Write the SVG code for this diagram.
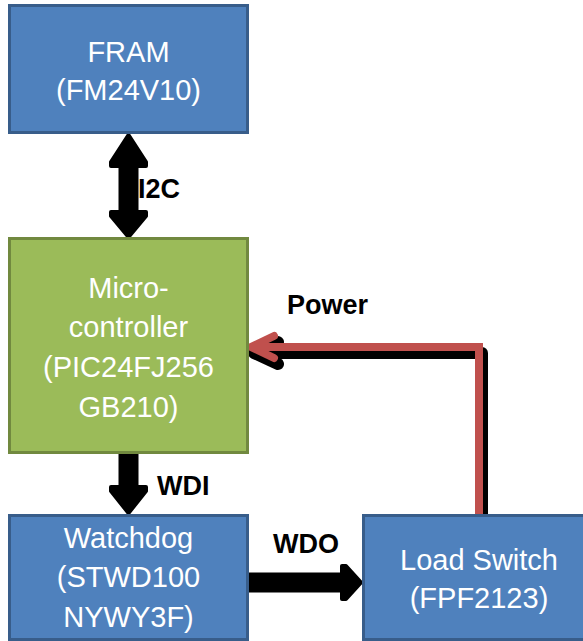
<svg xmlns="http://www.w3.org/2000/svg" width="583" height="641" viewBox="0 0 583 641">
<style>
.blue{fill:#4f81bd;stroke:#385d8a;stroke-width:3}
.green{fill:#9bbb59;stroke:#71893f;stroke-width:3}
.bt{font-family:"Liberation Sans",Arial,sans-serif;font-size:29px;fill:#ffffff;text-anchor:middle}
.lbl{font-family:"Liberation Sans",Arial,sans-serif;font-size:27px;font-weight:bold;fill:#000000}
.arr{fill:#000;stroke:#000;stroke-width:4;stroke-linejoin:round}
</style>
<rect width="583" height="641" fill="#ffffff"/>
<g id="connectors">
  <g id="i2c">
    <path class="arr" d="M128.5,135 L146,162 L146,166 L136.5,166 L136.5,212 L146,212 L146,216 L128.5,237 L111,216 L111,212 L120.5,212 L120.5,166 L111,166 L111,162 Z"/>
    <text class="lbl" x="138" y="198">I2C</text>
  </g>
  <g id="wdi">
    <path class="arr" d="M120.5,454 L136.5,454 L136.5,487 L146,487 L146,491 L128.5,513 L111,491 L111,487 L120.5,487 Z"/>
    <text class="lbl" x="157" y="495">WDI</text>
  </g>
  <g id="wdo">
    <path class="arr" d="M249,574.5 L342,574.5 L342,566 L346,566 L361,582.5 L346,599 L342,599 L342,590.5 L249,590.5 Z"/>
    <text class="lbl" x="273" y="553">WDO</text>
  </g>
  <g id="power">
    <path d="M482,515 L482,353 L256,353 M278,342 L254,353 L278,364" fill="none" stroke="#000" stroke-width="12" stroke-linejoin="round" stroke-linecap="round"/>
    <path d="M479,515 L479,347 L252,347 M274,336 L251,347 L274,358" fill="none" stroke="#c0504d" stroke-width="8" stroke-linejoin="miter" stroke-linecap="round"/>
    <text class="lbl" x="287" y="314">Power</text>
  </g>
</g>
<g id="fram">
  <rect class="blue" x="9.5" y="5.5" width="238" height="127"/>
  <text class="bt" x="128.5" y="62">FRAM</text>
  <text class="bt" x="128.5" y="100">(FM24V10)</text>
</g>
<g id="micro">
  <rect class="green" x="9.5" y="238.5" width="238" height="214"/>
  <text class="bt" x="128.5" y="298">Micro-</text>
  <text class="bt" x="128.5" y="337">controller</text>
  <text class="bt" x="128.5" y="377">(PIC24FJ256</text>
  <text class="bt" x="128.5" y="417">GB210)</text>
</g>
<g id="watchdog">
  <rect class="blue" x="9.5" y="515.5" width="238" height="124"/>
  <text class="bt" x="128.5" y="548">Watchdog</text>
  <text class="bt" x="128.5" y="587">(STWD100</text>
  <text class="bt" x="128.5" y="627">NYWY3F)</text>
</g>
<g id="loadswitch">
  <rect class="blue" x="363.5" y="515.5" width="232" height="124"/>
  <text class="bt" x="479" y="570">Load Switch</text>
  <text class="bt" x="479" y="608">(FPF2123)</text>
</g>
</svg>
